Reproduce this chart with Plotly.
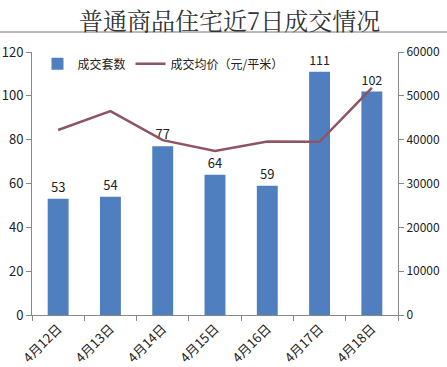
import plotly.graph_objects as go

dates = ["4月12日", "4月13日", "4月14日", "4月15日", "4月16日", "4月17日", "4月18日"]
volumes = [53, 54, 77, 64, 59, 111, 102]
prices = [42200, 46500, 39900, 37400, 39600, 39500, 51800]
left_ticks = [0, 20, 40, 60, 80, 100, 120]
right_ticks = [0, 10000, 20000, 30000, 40000, 50000, 60000]

font_family = "Noto Sans CJK SC, Noto Sans, sans-serif"

fig = go.Figure()
fig.add_trace(go.Bar(
    x=dates, y=volumes, name="成交套数",
    marker=dict(color="#4F7FBE", line=dict(width=0)),
    width=0.4,
    text=[str(v) for v in volumes], textposition="outside",
    textfont=dict(size=13, color="#222222"),
    cliponaxis=False,
))
fig.add_trace(go.Scatter(
    x=dates, y=prices, name="成交均价（元/平米）", yaxis="y2",
    mode="lines", line=dict(color="#8E5463", width=2.5),
))

fig.update_layout(
    width=447, height=367,
    margin=dict(l=32, r=49, t=52, b=52, autoexpand=False),
    paper_bgcolor="white", plot_bgcolor="white",
    font=dict(family=font_family, size=13, color="#222222"),
    showlegend=True,
    legend=dict(orientation="h", x=0.015, y=1.01, xanchor="left", yanchor="top",
                bgcolor="rgba(0,0,0,0)", font=dict(size=12), itemwidth=30,
                tracegroupgap=0),
    xaxis=dict(
        showline=True, linecolor="#888888", linewidth=1, automargin=False,
        ticks="outside", tickson="boundaries", ticklen=5, tickcolor="#888888",
        tickangle=-45, tickfont=dict(size=13), showgrid=False,
    ),
    yaxis=dict(
        range=[0, 120], tickvals=left_ticks, showline=True, linecolor="#888888",
        linewidth=1, ticks="outside", ticklen=5, tickcolor="#888888", automargin=False,
        showgrid=False, zeroline=False, tickfont=dict(size=13), ticklabelstandoff=0,
    ),
    yaxis2=dict(
        range=[0, 60000], tickvals=right_ticks, ticktext=[str(v) for v in right_ticks],
        overlaying="y", side="right", automargin=False,
        showline=True, linecolor="#888888", linewidth=1, ticks="outside",
        ticklen=5, tickcolor="#888888", showgrid=False, zeroline=False,
        tickfont=dict(size=12), ticklabelstandoff=0,
    ),
    bargap=0.6,
)

fig.add_annotation(
    text="普通商品住宅近7日成交情况", xref="paper", yref="paper",
    x=(229 - 32) / 366, xanchor="center", y=1, yshift=33, yanchor="middle",
    showarrow=False, font=dict(size=24, color="#333333", family="Noto Serif CJK SC, Noto Sans CJK SC, serif"),
)
sep_y = 1 + 20 / 263
fig.add_shape(type="line", xref="paper", yref="paper",
              x0=-32/366, x1=(447-32)/366, y0=sep_y, y1=sep_y,
              line=dict(color="#777777", width=1))

fig.write_html("out.html", config={"displayModeBar": False},
               post_script="document.body.style.margin='0';document.body.style.overflow='hidden';")
